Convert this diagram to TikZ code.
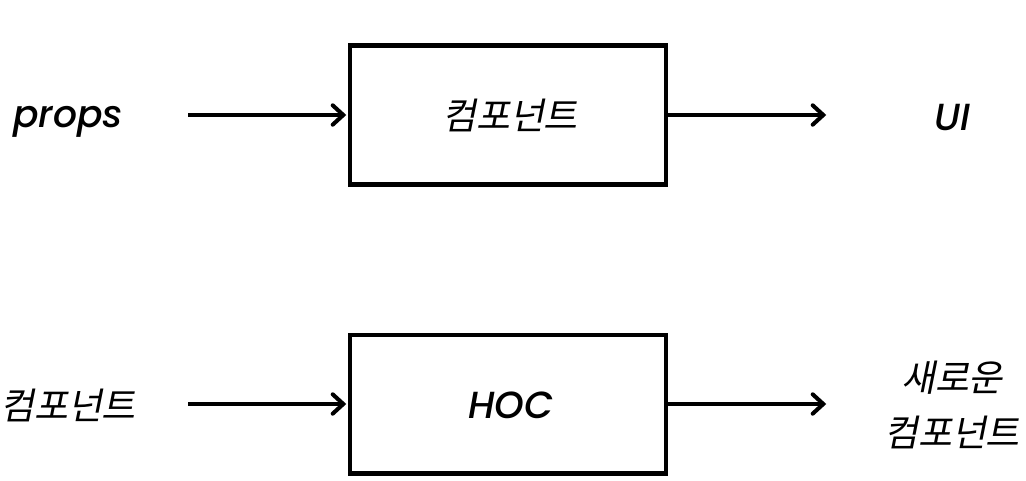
\documentclass[tikz,border=0pt]{standalone}
\usepackage{fontspec}
\setmainfont{Poppins}
\newfontfamily\latm{Poppins Medium Italic}
\newfontfamily\kr[FakeSlant=0.2]{Noto Sans CJK KR}
\usetikzlibrary{arrows.meta, positioning}

\begin{document}
\begin{tikzpicture}[x=0.02cm, y=-0.02cm, >={Straight Barb[length=6pt, width=11pt, line cap=round]}]
  \tikzset{
    blk/.style={draw, line width=2.3pt, minimum width=6.32cm, minimum height=2.78cm, inner sep=0pt},
    flow/.style={->, line width=2.3pt, shorten >=1pt},
    lat/.style={font=\fontsize{21.5}{26}\selectfont\latm},
    kor/.style={font=\fontsize{21}{31}\selectfont\kr, align=center},
  }
  \useasboundingbox (0,0) rectangle (1026,480);
  % first row: props -> component -> UI
  \node[blk] (comp) at (508,115) {};
  \node[kor] (complbl) at (510,115) {컴포넌트};
  \node[lat] (props) at (68,122) {props};
  \node[lat] (ui) at (952,118) {UI};
  \coordinate (p1) at (188,115);
  \coordinate (p2) at (828,115);
  \draw[flow] (p1) -- (comp.west);
  \draw[flow] (comp.east) -- (p2);
  % second row: component -> HOC -> new component
  \node[blk] (hoc) at (508,404) {};
  \node[lat] (hoclbl) at (511,405) {HOC};
  \node[kor] (incomp) at (68,405) {컴포넌트};
  \node[kor] (outcomp) at (952,405) {새로운\\컴포넌트};
  \coordinate (q1) at (188,404);
  \coordinate (q2) at (828,404);
  \draw[flow] (q1) -- (hoc.west);
  \draw[flow] (hoc.east) -- (q2);
\end{tikzpicture}
\end{document}
